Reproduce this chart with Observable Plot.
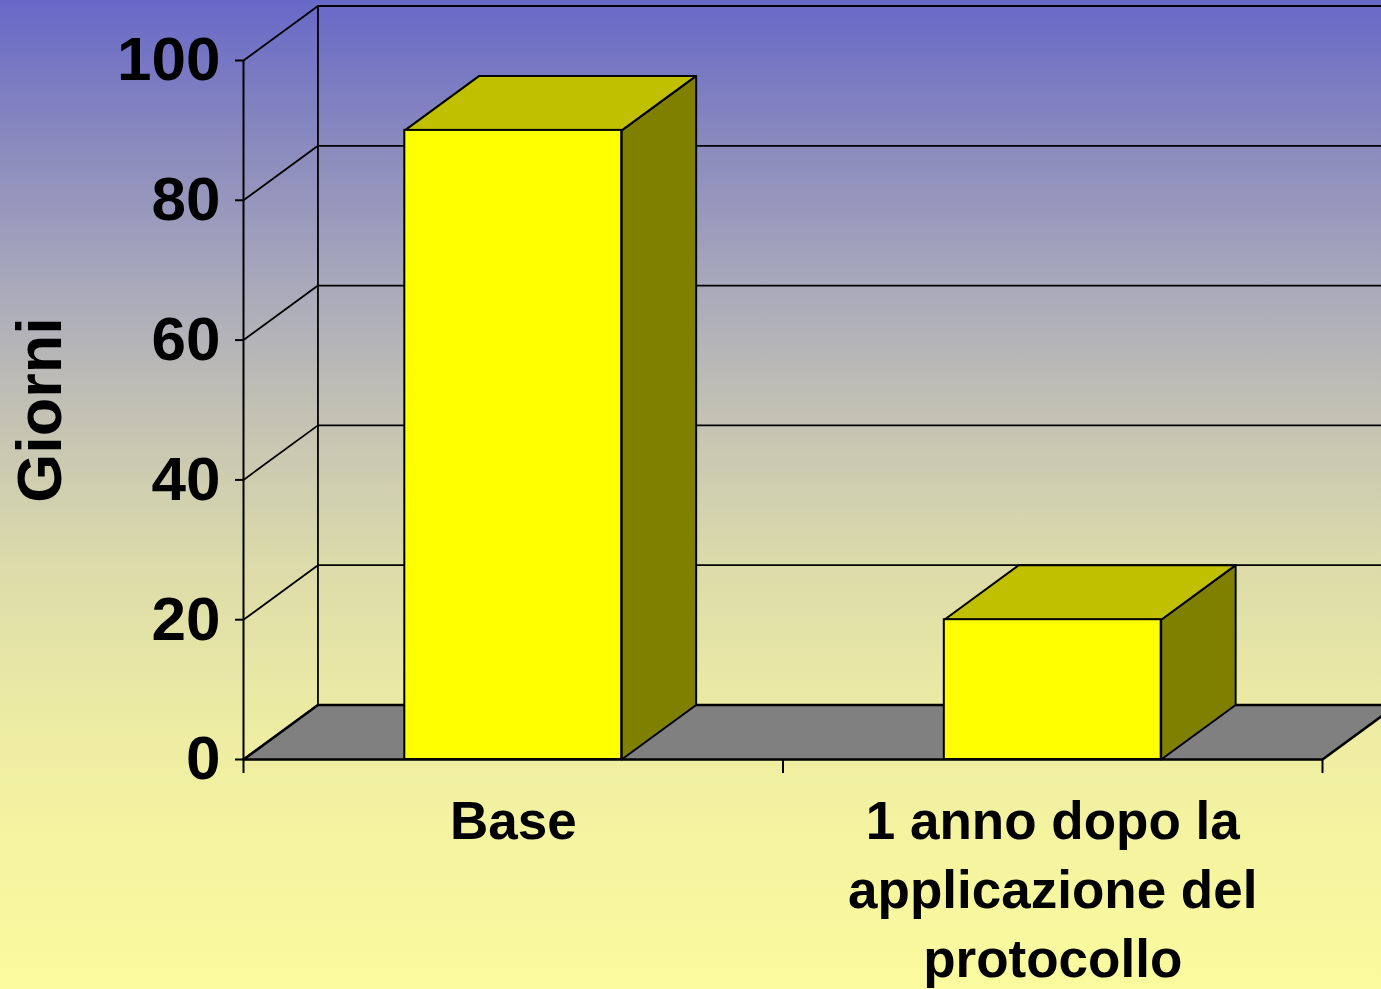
<!DOCTYPE html>
<html>
<head>
<meta charset="utf-8">
<script src="https://cdn.jsdelivr.net/npm/d3@7"></script>
<script src="https://cdn.jsdelivr.net/npm/@observablehq/plot@0.6"></script>
<style>
  html, body { margin: 0; padding: 0; overflow: hidden; }
  body {
    width: 1381px; height: 989px;
    background: linear-gradient(to bottom, #6868c8 0%, #8b8bbe 15%, #a9a9bb 29%, #c5c4b3 43%, #dcdbaa 57%, #ebeaa4 71%, #f4f4a0 85%, #fafa9e 100%);
  }
</style>
</head>
<body>
<div id="chart"></div>
<script>
// ---- data ----
const categories = ["Base", "1 anno dopo la applicazione del protocollo"];
const values = [90, 20];
const categoryLabels = ["Base", "1 anno dopo la\napplicazione del\nprotocollo"];
const yTicks = [0, 20, 40, 60, 80, 100];
const yLabel = "Giorni";

// ---- 3D geometry (in data units) ----
const BAR_HALF = 0.201;   // half bar width, in category units
const DEPTH_X = 0.138;    // depth offset along x (category units)
const DEPTH_Y = 7.8;      // depth offset along y (value units)
const N = categories.length;

const bars = categories.map((c, i) => ({
  id: c, i, v: values[i],
  x0: i + 0.5 - BAR_HALF, x1: i + 0.5 + BAR_HALF
}));

const poly = (id, pts) => pts.concat([pts[0]]).map(([x, y]) => ({id, x, y}));

const topFaces = bars.flatMap(b => poly(b.id, [
  [b.x0, b.v], [b.x1, b.v], [b.x1 + DEPTH_X, b.v + DEPTH_Y], [b.x0 + DEPTH_X, b.v + DEPTH_Y]
]));
const sideFaces = bars.flatMap(b => poly(b.id, [
  [b.x1, 0], [b.x1 + DEPTH_X, DEPTH_Y], [b.x1 + DEPTH_X, b.v + DEPTH_Y], [b.x1, b.v]
]));
const floor = poly("floor", [[0, 0], [N, 0], [N + DEPTH_X, DEPTH_Y], [DEPTH_X, DEPTH_Y]]);

const chart = Plot.plot({
  width: 1381,
  height: 989,
  marginLeft: 243,
  marginRight: 59,
  marginTop: 60,
  marginBottom: 230,
  x: {domain: [0, N], axis: null},
  y: {domain: [0, 100], axis: null},
  style: {
    background: "transparent",
    color: "black",
    fontFamily: "'Liberation Sans', Arial, sans-serif",
    overflow: "hidden"
  },
  marks: [
    // back wall gridlines (including top edge)
    Plot.ruleY(yTicks.filter(t => t > 0), {
      y: t => t + DEPTH_Y, x1: DEPTH_X, x2: N + DEPTH_X + 0.2, stroke: "black", strokeWidth: 1.8
    }),
    // back wall left edge
    Plot.ruleX([DEPTH_X], {y1: DEPTH_Y, y2: 100 + DEPTH_Y, stroke: "black", strokeWidth: 1.8}),
    // left wall diagonals
    Plot.link(yTicks, {
      x1: 0, y1: t => t, x2: DEPTH_X, y2: t => t + DEPTH_Y, stroke: "black", strokeWidth: 1.8
    }),
    // floor
    Plot.line(floor, {x: "x", y: "y", z: "id", fill: "#808080", stroke: "black", strokeWidth: 2.6, curve: "linear"}),
    // bars: side, top, front
    Plot.line(sideFaces, {x: "x", y: "y", z: "id", fill: "#808000", stroke: "black", strokeWidth: 2}),
    Plot.line(topFaces, {x: "x", y: "y", z: "id", fill: "#c0c000", stroke: "black", strokeWidth: 2}),
    Plot.rect(bars, {x1: "x0", x2: "x1", y1: 0, y2: "v", fill: "#ffff00", stroke: "black", strokeWidth: 2}),
    // front y axis line
    Plot.ruleX([0], {y1: 0, y2: 100, stroke: "black", strokeWidth: 2}),
    // y axis ticks and labels
    Plot.axisY(yTicks, {
      tickSize: 8, tickPadding: 15, fontSize: 62, fontWeight: "bold",
      label: null, strokeWidth: 2, tickFormat: d => String(d)
    }),
    // x axis ticks (category separators)
    Plot.axisX(d3.range(N + 1), {tickSize: 14, tickFormat: () => "", label: null, strokeWidth: 2}),
    // category labels
    Plot.text(bars, {
      x: b => b.x0 + BAR_HALF, y: 0, text: b => categoryLabels[b.i],
      lineAnchor: "top", dy: 31, fontSize: 53, fontWeight: "bold", lineHeight: 1.3, fill: "black"
    }),
    // y axis title
    Plot.text([yLabel], {
      frameAnchor: "left", textAnchor: "middle", dx: -203, rotate: -90,
      fontSize: 63, fontWeight: "bold", fill: "black"
    })
  ]
});

document.getElementById("chart").appendChild(chart);
</script>
</body>
</html>
